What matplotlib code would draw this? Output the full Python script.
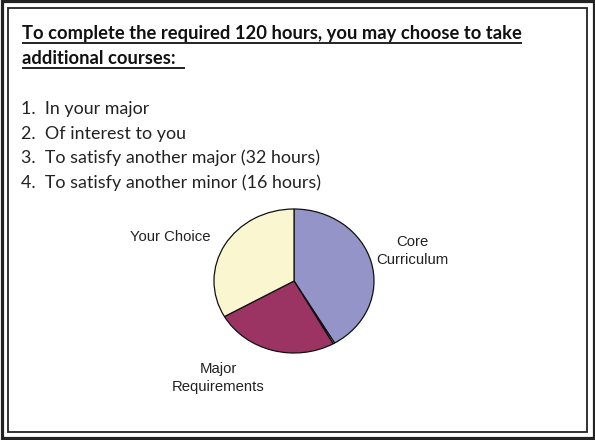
import matplotlib
matplotlib.use("Agg")
import matplotlib.pyplot as plt
from matplotlib.patches import Rectangle

W, H = 595, 440
heading = ["To complete the required 120 hours, you may choose to take",
           "additional courses:  "]
items = ["1.  In your major",
         "2.  Of interest to you",
         "3.  To satisfy another major (32 hours)",
         "4.  To satisfy another minor (16 hours)"]
categories = ["Core\nCurriculum", "", "Major\nRequirements", "Your Choice"]
values = [50, 0.4, 30, 40]
colors = ["#9494c8", "#ffffff", "#9b3463", "#faf7d0"]

fig = plt.figure(figsize=(W / 100, H / 100), dpi=100)
bg = fig.add_axes([0, 0, 1, 1])
bg.set_xlim(0, W)
bg.set_ylim(H, 0)
bg.axis("off")

# double border
bg.add_patch(Rectangle((1.5, 1.5), W - 3, H - 3, fill=False, lw=2.3, ec="#222222"))
bg.add_patch(Rectangle((8, 8), W - 16, H - 16, fill=False, lw=1.3, ec="#222222"))

fig.canvas.draw()
renderer = fig.canvas.get_renderer()
inv = bg.transData.inverted()
for i, line in enumerate(heading):
    y = 39.5 + i * 25
    t = bg.text(22, y, line, fontsize=13.2, fontweight="bold", family="Lato",
                va="baseline", ha="left", color="#111111")
    bb = t.get_window_extent(renderer=renderer)
    x0 = inv.transform((bb.x0, bb.y0))[0]
    x1 = inv.transform((bb.x1, bb.y0))[0]
    bg.plot([x0, x1], [y + 3.5, y + 3.5], color="#111111", lw=1.3,
            solid_capstyle="butt")

for i, line in enumerate(items):
    bg.text(21, 109 + i * 24.5, line, fontsize=12.9, family="Lato",
            va="center", ha="left", color="#222222")

# pie
cx, cy, rx, ry = 294, 281, 80, 72
ax = fig.add_axes([(cx - 1.1 * rx) / W, (H - cy - 1.1 * ry) / H,
                   2.2 * rx / W, 2.2 * ry / H])
ax.pie(values, colors=colors, startangle=90, counterclock=False,
       wedgeprops=dict(edgecolor="#111111", linewidth=0.9))
ax.set_aspect("auto")
ax.set_xlim(-1.1, 1.1)
ax.set_ylim(-1.1, 1.1)

lab_pos = {"Core\nCurriculum": (412, 251), "Major\nRequirements": (218, 378),
           "Your Choice": (170, 237)}
for name, (x, y) in lab_pos.items():
    bg.text(x, y, name, fontsize=10.7, family="Liberation Sans", ha="center",
            va="center", linespacing=1.45, color="#222222")

fig.savefig("out.png", dpi=100)
